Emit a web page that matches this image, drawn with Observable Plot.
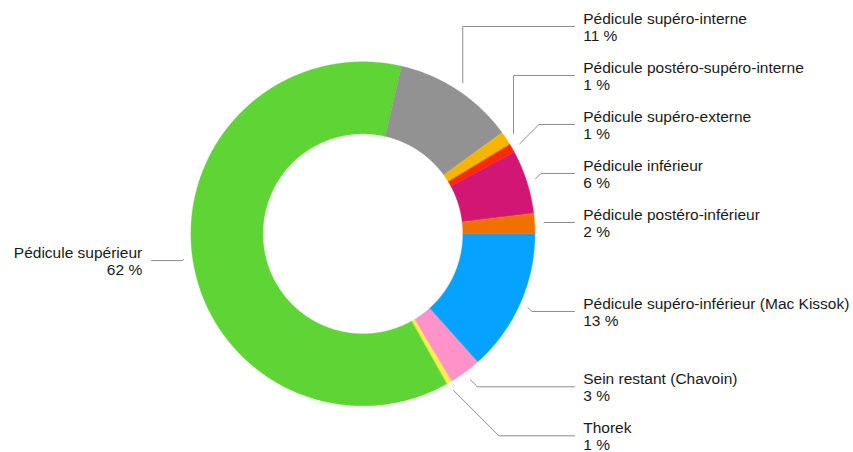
<!DOCTYPE html>
<html>
<head>
<meta charset="utf-8">
<script src="https://cdn.jsdelivr.net/npm/d3@7"></script>
<script src="https://cdn.jsdelivr.net/npm/@observablehq/plot@0.6"></script>
<style>
  html, body { margin: 0; padding: 0; background: #ffffff; }
  #chart { width: 853px; height: 452px; }
</style>
</head>
<body>
<div id="chart"></div>
<script>
// ---- Data (clockwise from 3 o'clock) ----
const categories = [
  "Pédicule supéro-inférieur (Mac Kissok)",
  "Sein restant (Chavoin)",
  "Thorek",
  "Pédicule supérieur",
  "Pédicule supéro-interne",
  "Pédicule postéro-supéro-interne",
  "Pédicule supéro-externe",
  "Pédicule inférieur",
  "Pédicule postéro-inférieur"
];
const values = [13.4, 3.0, 0.5, 61.7, 11.4, 1.3, 0.8, 6.0, 1.9];

// ---- Palette ----
const colors = ["#05A2FF", "#FF93C9", "#FFEC4F", "#5FD535", "#929292", "#F6B500", "#FF2A00", "#D11673", "#F07100"];

// ---- Layout ----
const W = 853, H = 452;
const CX = 362.4, CY = 233.3;
const R_OUT = 172, R_IN = 100, R_LEAD = 181, R_LABEL = 190, GAP = 49, DIAG_MAX = 50;
const LINE_END_R = 574, TEXT_R = 582.7, LINE_END_L = 151, TEXT_L = 141.7;

const total = d3.sum(values);
let acc = 0;
const slices = categories.map((c, i) => {
  const a0 = acc / total * 2 * Math.PI;
  acc += values[i];
  const a1 = acc / total * 2 * Math.PI;
  return {c, i, a0, a1, mid: (a0 + a1) / 2, color: colors[i], pct: Math.round(values[i] / total * 100)};
});

// slice polygons
const polys = [];
for (const s of slices) {
  const n = Math.max(2, Math.ceil((s.a1 - s.a0) / (0.25 * Math.PI / 180)));
  for (let k = 0; k <= n; k++) {
    const a = s.a0 + (s.a1 - s.a0) * k / n;
    polys.push({key: s.i, color: s.color, x: R_OUT * Math.cos(a), y: R_OUT * Math.sin(a)});
  }
  for (let k = n; k >= 0; k--) {
    const a = s.a0 + (s.a1 - s.a0) * k / n;
    polys.push({key: s.i, color: s.color, x: R_IN * Math.cos(a), y: R_IN * Math.sin(a)});
  }
}

// label layout
for (const s of slices) {
  s.side = Math.cos(s.mid) >= 0 ? 1 : -1;
  s.ny = R_LABEL * Math.sin(s.mid);
  s.px = R_LEAD * Math.cos(s.mid);
  s.py = R_LEAD * Math.sin(s.mid);
}
for (const side of [1, -1]) {
  const grp = slices.filter(s => s.side === side);
  const up = grp.filter(s => s.ny < 0).sort((a, b) => b.ny - a.ny);
  let prev = Infinity;
  for (const s of up) { s.ly = Math.min(s.ny, prev - GAP); prev = s.ly; }
  const down = grp.filter(s => s.ny >= 0).sort((a, b) => a.ny - b.ny);
  prev = -Infinity;
  for (const s of down) { s.ly = Math.max(s.ny, prev + GAP); prev = s.ly; }
}

const leaders = [];
for (const s of slices) {
  const dy = s.ly - s.py;
  const ex = Math.abs(dy) <= DIAG_MAX ? s.px + s.side * Math.abs(dy) : s.px;
  const endX = (s.side > 0 ? LINE_END_R : LINE_END_L) - CX;
  leaders.push({key: s.i, x: s.px, y: s.py});
  leaders.push({key: s.i, x: ex, y: s.ly});
  leaders.push({key: s.i, x: endX, y: s.ly});
}

const labels = slices.map(s => ({
  x: (s.side > 0 ? TEXT_R : TEXT_L) - CX,
  y: s.ly,
  anchor: s.side > 0 ? "start" : "end",
  text: s.c + "\n" + s.pct + "\u00a0%"
}));

const plot = Plot.plot({
  width: W,
  height: H,
  margin: 0,
  x: {domain: [-CX, W - CX], range: [0, W], axis: null},
  y: {domain: [-CY, H - CY], range: [0, H], axis: null},
  color: {type: "identity"},
  style: {fontFamily: "'Liberation Sans', Arial, Helvetica, sans-serif", background: "#ffffff"},
  marks: [
    Plot.line(polys, {x: "x", y: "y", z: "key", fill: "color", stroke: "color", strokeWidth: 0.4, curve: "linear-closed"}),
    Plot.line(leaders, {x: "x", y: "y", z: "key", stroke: "#8c8c8c", strokeWidth: 1, curve: "linear"}),
    Plot.text(labels.filter(d => d.anchor === "start"), {x: "x", y: "y", text: "text", textAnchor: "start", lineAnchor: "bottom", dy: 14.4, lineHeight: 1.08, fontSize: 15.5, fill: "#1a1a1a"}),
    Plot.text(labels.filter(d => d.anchor === "end"), {x: "x", y: "y", text: "text", textAnchor: "end", lineAnchor: "bottom", dy: 14.4, lineHeight: 1.08, fontSize: 15.5, fill: "#1a1a1a"})
  ]
});
document.getElementById("chart").appendChild(plot);
</script>
</body>
</html>
